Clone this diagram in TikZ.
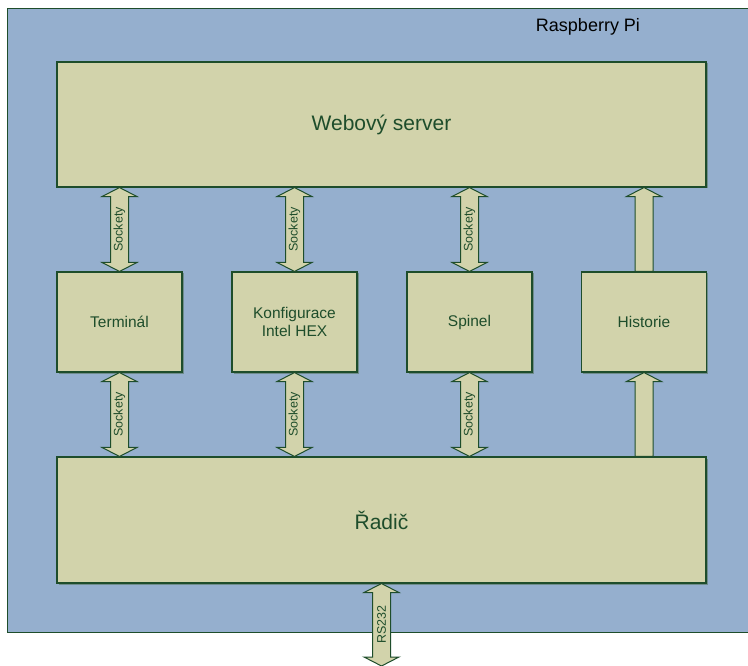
\documentclass[tikz,border=0pt]{standalone}
\usepackage{fontspec}
\setmainfont{Liberation Sans}
\usetikzlibrary{calc}
\definecolor{bgblue}{HTML}{95AFCE}
\definecolor{boxfill}{HTML}{D2D3AB}
\definecolor{dkgreen}{HTML}{1E4D2B}
\definecolor{shade}{HTML}{6F8C8C}
\tikzset{
 blk/.style={draw=dkgreen, line width=1.1pt, fill=boxfill, text=dkgreen, inner sep=0pt, align=center,
   preaction={fill=shade, transform canvas={xshift=1.5pt,yshift=-1.5pt}}},
 small/.style={blk, minimum width=125pt, minimum height=100pt, font=\fontsize{15.5}{18}\selectfont},
 big/.style={blk, minimum width=649pt, minimum height=125pt, font=\fontsize{21}{25}\selectfont},
 arr/.style={draw=dkgreen, line width=1pt, fill=boxfill},
 lbl/.style={text=dkgreen, font=\fontsize{12.5}{14}\selectfont, rotate=90, inner sep=0pt}
}
\newcommand{\dblarr}[2]{%
 \path[arr] let \p1=(#1), \p2=(#2) in (\x1,\y1) -- (\x1+17.5pt,\y1-9pt) -- (\x1+9pt,\y1-9pt) -- (\x1+9pt,\y2+9pt) -- (\x1+17.5pt,\y2+9pt) -- (\x2,\y2) -- (\x1-17.5pt,\y2+9pt) -- (\x1-9pt,\y2+9pt) -- (\x1-9pt,\y1-9pt) -- (\x1-17.5pt,\y1-9pt) -- cycle;}
\newcommand{\uparr}[2]{%
 \path[arr] let \p1=(#1), \p2=(#2) in (\x1,\y1) -- (\x1+17.5pt,\y1-9pt) -- (\x1+9pt,\y1-9pt) -- (\x1+9pt,\y2) -- (\x1-9pt,\y2) -- (\x1-9pt,\y1-9pt) -- (\x1-17.5pt,\y1-9pt) -- cycle;}
\begin{document}
\begin{tikzpicture}[x=1pt,y=-1pt]
\useasboundingbox (0,0) rectangle (748,666);
\fill[white] (0,0) rectangle (748,666);
\node (outer) [draw=dkgreen, fill=bgblue, line width=1.2pt, minimum width=760pt, minimum height=624pt, anchor=north west, inner sep=0pt] at (7,8) {};
\node (rpi) [text=black, font=\fontsize{18}{21}\selectfont] at (588,27) {Raspberry Pi};

\node (web) [big] at (381.5,124.5) {Webový server};
\node (term) [small] at (119.5,322) {Terminál};
\node (konf) [small] at (294.5,322) {Konfigurace\\Intel HEX};
\node (spin) [small] at (469.5,322) {Spinel};
\node (hist) [small] at (644,322) {Historie};
\node (radic) [big, minimum height=126pt] at (381.5,520) {Řadič};
\coordinate (rsend) at (381.5,666);

\foreach \b in {term,konf,spin}{
  \dblarr{\b.north |- web.south}{\b.north}
  \node[lbl] at ($(\b.north)!0.5!(\b.north |- web.south)$) {Sockety};
  \dblarr{\b.south}{\b.south |- radic.north}
  \node[lbl] at ($(\b.south)!0.5!(\b.south |- radic.north)$) {Sockety};
}
\uparr{hist.north |- web.south}{hist.north}
\uparr{hist.south}{hist.south |- radic.north}
\dblarr{radic.south}{rsend}
\node[lbl] at ($(radic.south)!0.5!(rsend)$) {RS232};
\end{tikzpicture}
\end{document}
